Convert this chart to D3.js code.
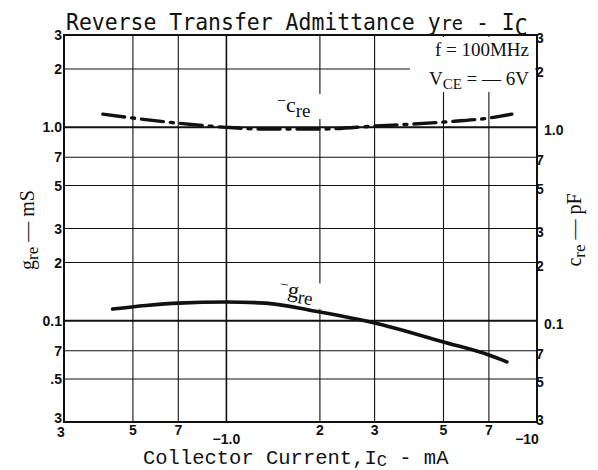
<!DOCTYPE html>
<html><head><meta charset="utf-8">
<script src="https://cdn.jsdelivr.net/npm/d3@7"></script>
<style>body{margin:0;background:#fff}svg{display:block}</style>
</head><body>
<svg id="c" width="598" height="470"></svg>
<script>
// ---- data ----
const xTickValues = [0.3, 0.5, 0.7, 1, 2, 3, 5, 7, 10];
const xTickLabels = ["3", "5", "7", "\u22121.0", "2", "3", "5", "7", "\u221210"];
const yTickValues = [3, 2, 1, 0.7, 0.5, 0.3, 0.2, 0.1, 0.07, 0.05, 0.03];
const yLeftLabels = ["3", "2", "1.0", "7", "5", "3", "2", "0.1", "7", ".5", "3"];
const yRightLabels = ["3", "2", "1.0", "7", "5", "3", "2", "0.1", "7", "5", "3"];
const icG = [0.43, 0.55, 0.7, 1.0, 1.33, 2, 3, 5, 7, 8.0];
const gre = [0.115, 0.12, 0.1235, 0.125, 0.1235, 0.111, 0.0974, 0.0777, 0.0666, 0.0614];
const icC = [0.40, 0.5, 0.7, 1.0, 1.33, 2, 3, 5, 7, 8.3];
const cre = [1.17, 1.117, 1.05, 1.0, 0.98, 0.98, 1.015, 1.065, 1.117, 1.17];

const svg = d3.select("#c");
const L = 64, R = 537, T = 35, B = 422;
const x = d3.scaleLog().domain([0.3, 10]).range([L, R]);
const y = d3.scaleLog().domain([0.03, 3]).range([B, T]);
const ink = "#111";

// grid
const g = svg.append("g");
g.selectAll("line.v").data(xTickValues.slice(1, -1)).join("line").attr("class", "v")
  .attr("x1", d => x(d)).attr("x2", d => x(d)).attr("y1", T).attr("y2", B)
  .attr("stroke", ink).attr("stroke-width", d => d === 1 ? 1.6 : 1.1);
g.selectAll("line.h").data(yTickValues.slice(1, -1)).join("line").attr("class", "h")
  .attr("x1", L).attr("x2", R).attr("y1", d => y(d)).attr("y2", d => y(d))
  .attr("stroke", ink).attr("stroke-width", d => (d === 1 || d === 0.1) ? 2 : 1.1);

// frame
svg.append("rect").attr("x", L).attr("y", T).attr("width", R - L).attr("height", B - T)
  .attr("fill", "none").attr("stroke", ink).attr("stroke-width", 2);

// annotation box (blanks grid)
svg.append("rect").attr("x", 442).attr("y", T + 2).attr("width", R - 444).attr("height", 26).attr("fill", "#fff");
svg.append("rect").attr("x", 410).attr("y", T + 27).attr("width", R - 412).attr("height", 30).attr("fill", "#fff");
const ann = svg.append("g").attr("font-family", "Liberation Serif, serif").attr("fill", ink);
ann.append("text").attr("x", 529).attr("y", 56).attr("text-anchor", "end").attr("font-size", 19).text("f = 100MHz");
const t2 = ann.append("text").attr("x", 529).attr("y", 85).attr("text-anchor", "end").attr("font-size", 19);
t2.append("tspan").text("V");
t2.append("tspan").attr("dy", 4).attr("font-size", 15).text("CE");
t2.append("tspan").attr("dy", -4).text(" = \u2014 6V");

// curves
const line = d3.line().x(d => x(d[0])).y(d => y(d[1])).curve(d3.curveMonotoneX);
svg.append("path").datum(icG.map((v, i) => [v, gre[i]])).attr("d", line)
  .attr("fill", "none").attr("stroke", ink).attr("stroke-width", 3.6).attr("stroke-linecap", "round");
svg.append("path").datum(icC.map((v, i) => [v, cre[i]])).attr("d", line)
  .attr("fill", "none").attr("stroke", ink).attr("stroke-width", 3.4)
  .attr("stroke-dasharray", "22,7,3,7").attr("stroke-linecap", "round");

// curve labels
function curveLabel(cx, cy, rot, letter) {
  const grp = svg.append("g").attr("transform", `translate(${cx},${cy}) rotate(${rot})`);
  grp.append("rect").attr("x", -2).attr("y", -18).attr("width", 58).attr("height", 25).attr("fill", "#fff");
  const t = grp.append("text").attr("font-family", "Liberation Serif, serif").attr("font-size", 22).attr("fill", ink);
  t.append("tspan").attr("font-size", 16).attr("dy", -6).text("\u2212");
  t.append("tspan").attr("dy", 6).text(letter);
  t.append("tspan").attr("dy", 5).attr("font-size", 19).text("re");
}
curveLabel(277, 112, 0, "c");
curveLabel(278, 295, 9, "g");

// tick labels
const tl = svg.append("g").attr("font-family", "Liberation Sans, Arial, sans-serif").attr("font-weight", "bold")
  .attr("font-size", 14).attr("fill", ink);
const nY = yTickValues.length;
tl.selectAll("text.yl").data(yTickValues).join("text")
  .attr("x", L - 2).attr("y", (d, i) => y(d) + (i === nY - 1 ? 1 : 5)).attr("text-anchor", "end")
  .text((d, i) => yLeftLabels[i]);
tl.selectAll("text.yr").data(yTickValues).join("text")
  .attr("x", (d, i) => yRightLabels[i].length > 1 ? R + 7 : R - 1)
  .attr("y", (d, i) => y(d) + (i === nY - 1 ? 3 : 8))
  .text((d, i) => yRightLabels[i]);
tl.selectAll("text.x").data(xTickValues).join("text")
  .attr("x", (d, i) => x(d) + (i === 0 ? -3 : (i === xTickValues.length - 1 ? -10 : 0)))
  .attr("y", (d, i) => xTickLabels[i].length > 1 ? 444 : (i === 0 ? 437 : 435))
  .attr("text-anchor", "middle")
  .text((d, i) => xTickLabels[i]);

// title (scaled horizontally to span the reference width)
const title = svg.append("text").attr("font-family", "DejaVu Sans Mono, monospace")
  .attr("font-size", 23).attr("fill", ink);
title.append("tspan").text("Reverse Transfer Admittance y");
title.append("tspan").attr("font-size", 20).text("re");
title.append("tspan").text(" - I");
title.append("tspan").attr("dy", 5).text("C");
const tw = title.node().getBBox().width || 462;
title.attr("transform", `translate(66,30) scale(${462 / tw},1)`);

// axis titles
const xt = svg.append("text").attr("x", 143).attr("y", 464).attr("font-family", "Liberation Mono, Courier New, monospace")
  .attr("font-size", 20.5).attr("fill", ink);
xt.append("tspan").text("Collector Current,I");
xt.append("tspan").attr("dy", 2).attr("font-size", 17).text("C");
xt.append("tspan").attr("dy", -2).text(" - mA");

function yTitle(cx, letter, unit) {
  const t = svg.append("text").attr("transform", `translate(${cx},230) rotate(-90)`).attr("text-anchor", "middle")
    .attr("font-family", "Liberation Serif, serif").attr("font-size", 20).attr("fill", ink);
  t.append("tspan").text(letter);
  t.append("tspan").attr("dy", 4).attr("font-size", 17).text("re");
  t.append("tspan").attr("dy", -4).text("  \u2014  " + unit);
}
yTitle(34, "g", "mS");
yTitle(581, "c", "pF");
</script>
</body></html>
